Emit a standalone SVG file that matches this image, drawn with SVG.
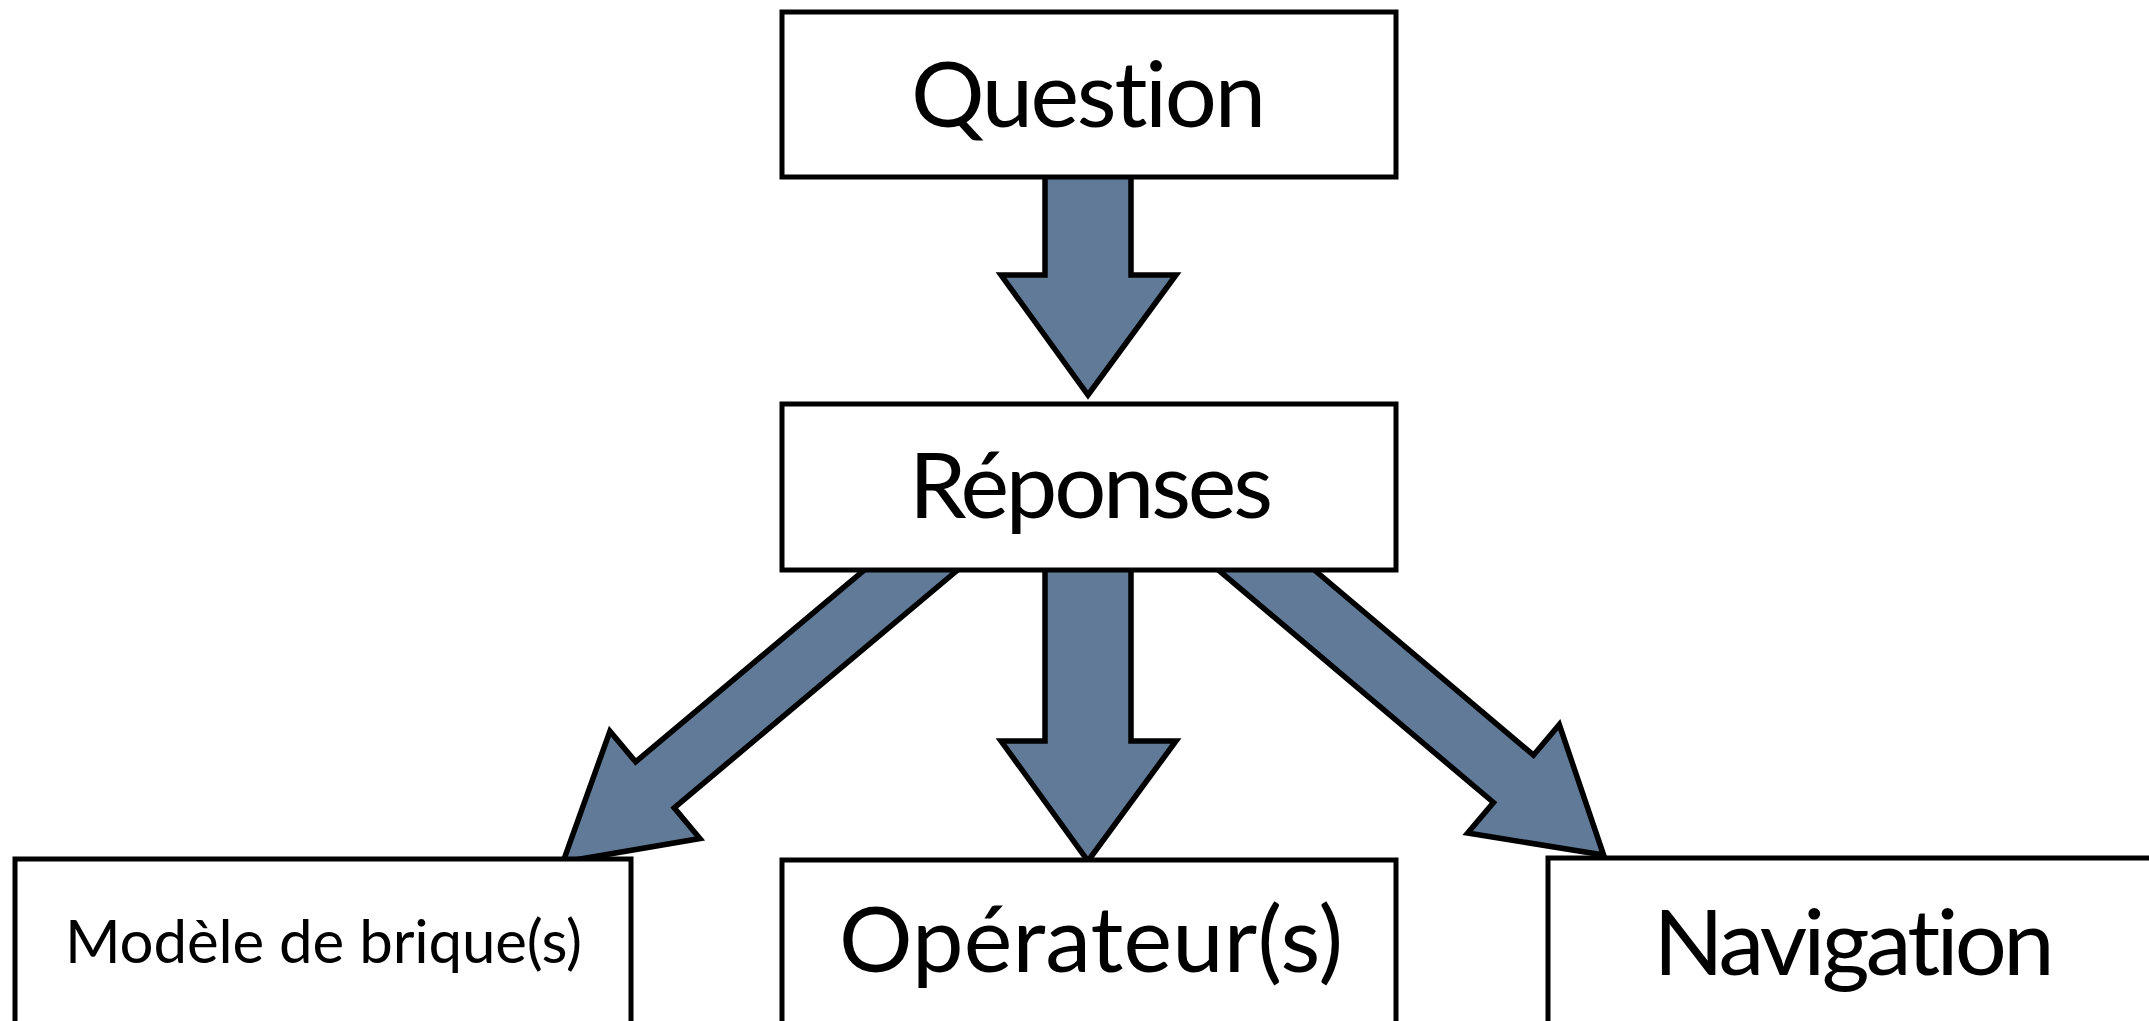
<svg xmlns="http://www.w3.org/2000/svg" width="2149" height="1021" viewBox="0 0 2149 1021">
  <defs>
    <style>
      .box { fill: #ffffff; stroke: #000000; stroke-width: 5; }
      .arrow { fill: #607a98; stroke: #000000; stroke-width: 5.5; stroke-linejoin: miter; }
      .lbl { font-family: "Lato", "Open Sans", "Liberation Sans", sans-serif; fill: #000000; text-anchor: middle; font-variant-ligatures: none; font-feature-settings: "liga" 0, "clig" 0; }
      .big { font-size: 92px; }
      .small { font-size: 60px; }
    </style>
  </defs>
  <rect x="0" y="0" width="2149" height="1021" fill="#ffffff"/>
  <g id="connectors">
    <polygon class="arrow" points="1045,150 1131,150 1131,275 1176,275 1088,395 1001,275 1045,275"/>
    <polygon class="arrow" points="1045,540 1131,540 1131,741 1176,741 1088,861 1001,741 1045,741"/>
    <path class="arrow" transform="translate(563,862) rotate(140)" d="M0,0 L-120,-70 L-120,-30 L-520,-30 L-520,30 L-120,30 L-120,70 Z"/>
    <path class="arrow" transform="translate(1603.6,855) rotate(40.2)" d="M0,0 L-118,-71 L-118,-31 L-500,-31 L-500,31 L-118,31 L-118,71 Z"/>
  </g>
  <g id="question">
    <rect class="box" x="782" y="12" width="614" height="165"/>
    <text class="lbl big" x="1088.5" y="127" textLength="355">Question</text>
  </g>
  <g id="reponses">
    <rect class="box" x="782" y="404" width="614" height="166"/>
    <text class="lbl big" x="1091" y="518" textLength="364">Réponses</text>
  </g>
  <g id="modele">
    <rect class="box" x="15" y="859" width="616" height="200"/>
    <text class="lbl small" x="323.5" y="963" textLength="517">Modèle de brique(s)</text>
  </g>
  <g id="operateur">
    <rect class="box" x="782" y="860" width="614" height="200"/>
    <text class="lbl big" x="1091" y="972" textLength="504">Opérateur(s)</text>
  </g>
  <g id="navigation">
    <rect class="box" x="1548" y="858" width="614" height="200"/>
    <text class="lbl big" x="1854" y="975" textLength="401">Navigation</text>
  </g>
</svg>
